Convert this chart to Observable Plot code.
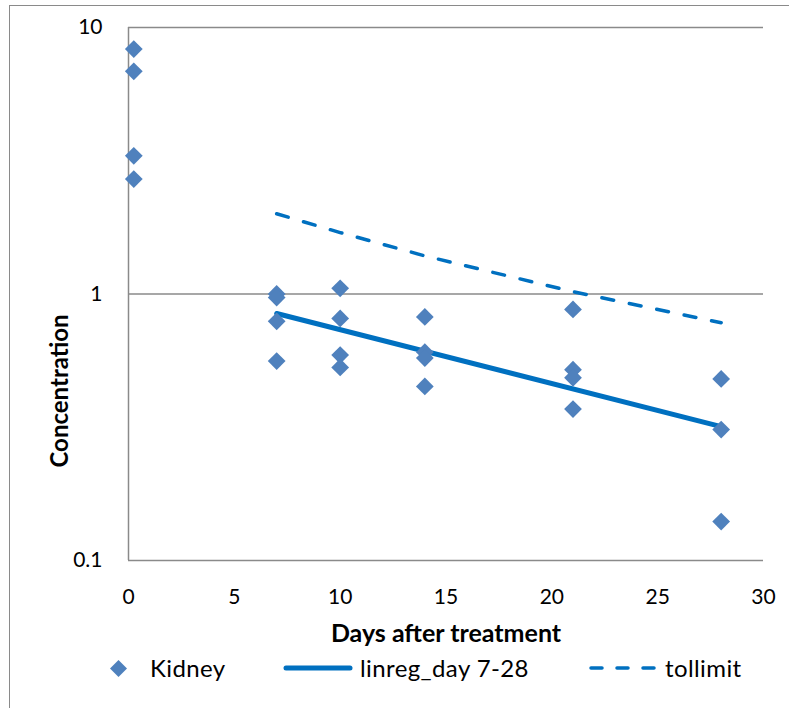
<!DOCTYPE html>
<html>
<head>
<meta charset="utf-8">
<script src="https://cdn.jsdelivr.net/npm/d3@7"></script>
<script src="https://cdn.jsdelivr.net/npm/@observablehq/plot@0.6"></script>
<style>
  html, body { margin: 0; padding: 0; background: #fff; }
  #wrap { position: relative; width: 789px; height: 708px; overflow: hidden; font-family: Lato, "Open Sans", sans-serif; }
  #border { position: absolute; left: 9px; top: 5px; width: 800px; height: 720px; border: 1.4px solid #8a8a8a; box-sizing: border-box; pointer-events: none; }
  #chart { position: absolute; left: 0; top: 0; }
  #legend { position: absolute; left: 0; top: 650px; width: 789px; height: 36px; font-size: 24px; letter-spacing: 0.4px; color: #000; }
  #legend .t { position: absolute; top: 0; line-height: 36px; height: 36px; white-space: nowrap; }
  #legend svg { position: absolute; }
</style>
</head>
<body>
<div id="wrap">
  <div id="chart"></div>
  <div id="legend"></div>
  <div id="border"></div>
</div>
<script>
// Kidney concentrations (days after treatment, concentration)
const kidneyDays = [0.25, 0.25, 0.25, 0.25,
                    7, 7, 7, 7,
                    10, 10, 10, 10,
                    14, 14, 14, 14,
                    21, 21, 21, 21,
                    28, 28, 28];
const kidneyConc = [8.3, 6.85, 3.3, 2.7,
                    1.0, 0.97, 0.79, 0.56,
                    1.05, 0.81, 0.59, 0.53,
                    0.82, 0.605, 0.575, 0.45,
                    0.875, 0.52, 0.485, 0.37,
                    0.48, 0.31, 0.14];
// linear regression day 7-28
const linregDays = [7, 28];
const linregConc = [0.845, 0.318];
// tolerance limit
const tolDays = [7, 10, 14, 21, 28];
const tolConc = [2.0, 1.70, 1.39, 1.02, 0.78];
// axes
const xTicks = [0, 5, 10, 15, 20, 25, 30];
const yTicks = [0.1, 1, 10];
const yTickLabels = ["0.1", "1", "10"];
const seriesNames = ["Kidney", "linreg_day 7-28", "tollimit"];
const xTitle = "Days after treatment";
const yTitle = "Concentration";

const kidney = kidneyDays.map((d, i) => ({day: d, conc: kidneyConc[i]}));
const linreg = linregDays.map((d, i) => ({day: d, conc: linregConc[i]}));
const tol = tolDays.map((d, i) => ({day: d, conc: tolConc[i]}));

const dotColor = "#4F81BD";
const lineColor = "#0070C0";
const gridColor = "#8a8a8a";

const chart = Plot.plot({
  width: 789,
  height: 650,
  marginLeft: 128,
  marginRight: 26,
  marginTop: 27,
  marginBottom: 90,
  style: {fontFamily: "Lato, 'Open Sans', sans-serif", fontSize: "21px", color: "#000", background: "transparent"},
  x: {domain: [0, 30], ticks: xTicks},
  y: {type: "log", domain: [0.1, 10], ticks: yTicks},
  marks: [
    Plot.ruleY(yTicks, {stroke: gridColor, strokeWidth: 1.5}),
    Plot.ruleX([0], {stroke: gridColor, strokeWidth: 1.5}),
    Plot.axisX({ticks: xTicks, tickSize: 0, tickPadding: 29, label: null, fontSize: 21}),
    Plot.axisY({ticks: yTicks, tickSize: 0, tickPadding: 26, label: null, fontSize: 21,
                tickFormat: d => yTickLabels[yTicks.indexOf(d)]}),
    Plot.line(tol, {x: "day", y: "conc", stroke: lineColor, strokeWidth: 3.5,
                    strokeDasharray: "12,16", strokeLinecap: "round"}),
    Plot.line(linreg, {x: "day", y: "conc", stroke: lineColor, strokeWidth: 5, strokeLinecap: "round"}),
    Plot.dot(kidney, {x: "day", y: "conc", symbol: "diamond2", r: 8, fill: dotColor, stroke: "none"}),
    Plot.text([xTitle], {text: d => d, frameAnchor: "bottom", textAnchor: "middle", dy: 81, fontWeight: "bold", fontSize: 25}),
    Plot.text([yTitle], {text: d => d, frameAnchor: "left", textAnchor: "middle", rotate: -90, dx: -68, dy: 97, fontWeight: "bold", fontSize: 24})
  ]
});
document.getElementById("chart").appendChild(chart);

// Legend
const legend = document.getElementById("legend");
const ns = "http://www.w3.org/2000/svg";
function addSvg(left, w, h, inner) {
  const s = document.createElementNS(ns, "svg");
  s.setAttribute("width", w);
  s.setAttribute("height", h);
  s.style.left = left + "px";
  s.style.top = (18 - h / 2) + "px";
  s.innerHTML = inner;
  legend.appendChild(s);
}
function addText(left, txt) {
  const t = document.createElement("span");
  t.className = "t";
  t.style.left = left + "px";
  t.textContent = txt;
  legend.appendChild(t);
}
addSvg(110, 17, 17, `<polygon points="8.5,0 17,8.5 8.5,17 0,8.5" fill="${dotColor}"/>`);
addText(150, seriesNames[0]);
addSvg(283, 70, 8, `<line x1="3" y1="4" x2="67" y2="4" stroke="${lineColor}" stroke-width="5" stroke-linecap="round"/>`);
addText(360, seriesNames[1]);
addSvg(588, 70, 6, `<line x1="3" y1="3" x2="67" y2="3" stroke="${lineColor}" stroke-width="3.5" stroke-linecap="round" stroke-dasharray="11,15"/>`);
addText(665, seriesNames[2]);
</script>
</body>
</html>
